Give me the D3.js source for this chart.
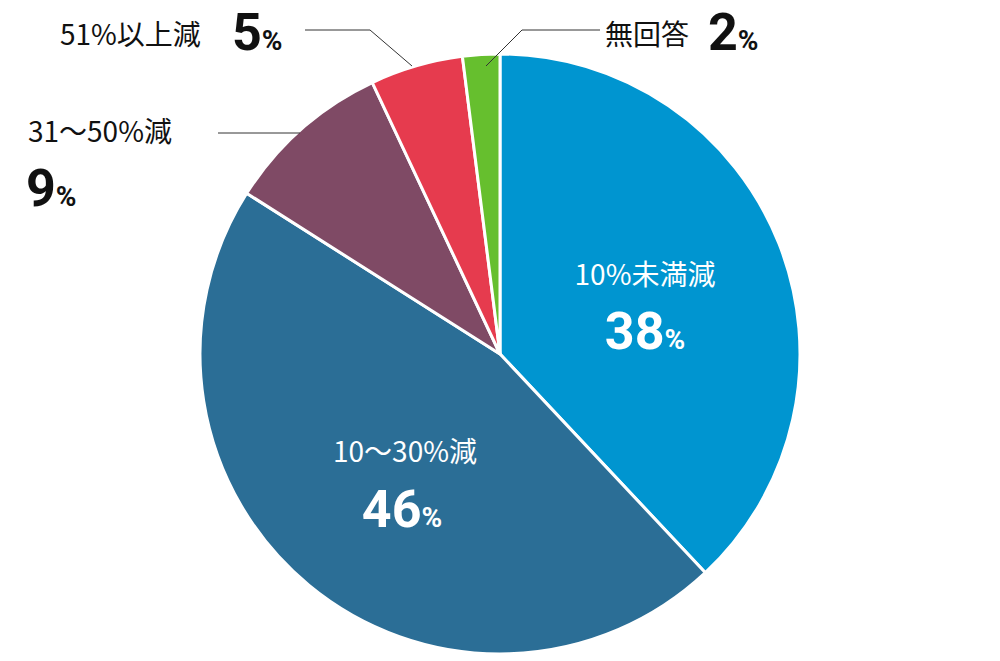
<!DOCTYPE html><html><head><meta charset="utf-8"><script src="https://cdn.jsdelivr.net/npm/d3@7"></script>
<style>body{margin:0;background:#fff}text{font-family:"Noto Sans CJK JP",sans-serif}</style></head><body>
<svg id="c" width="1000" height="661"></svg>
<script>
const categories=["10%未満減","10〜30%減","31〜50%減","51%以上減","無回答"];
const values=[38,46,9,5,2];
const colors=["#0095d0","#2b6e96","#7f4a65","#e63b4e","#66bf2e"];
const svg=d3.select("#c"),cx=500,cy=354,r=300;
const pie=d3.pie().sort(null).value(d=>d)(values);
const arc=d3.arc().innerRadius(0).outerRadius(r);
const g=svg.append("g").attr("transform",`translate(${cx},${cy})`);
g.selectAll("path").data(pie).join("path").attr("d",arc).attr("fill",(d,i)=>colors[i]).attr("stroke","#fff").attr("stroke-width",3);
function val(x,y,v,fill,anchor){
  const t=svg.append("text").attr("x",x).attr("y",y).attr("fill",fill).attr("text-anchor",anchor||"start");
  t.append("tspan").text(v).attr("font-family","Roboto").attr("font-weight",700).attr("font-size",52);
  t.append("tspan").text("%").attr("font-family","Roboto").attr("font-weight",700).attr("font-size",28);
}
function lab(x,y,s,fill,anchor){svg.append("text").attr("x",x).attr("y",y).attr("fill",fill).attr("font-size",28).attr("text-anchor",anchor||"start").text(s);}
lab(645,285,categories[0],"#fff","middle");val(645,349,values[0],"#fff","middle");
lab(405,462,categories[1],"#fff","middle");val(402,527,values[1],"#fff","middle");
lab(28,142,categories[2],"#111");val(26,206,values[2],"#111");
lab(60,45,categories[3],"#111");val(232,50,values[3],"#111");
lab(605,45,categories[4],"#111");val(708,50,values[4],"#111");
const ls=[[[218,133],[300,133]],[[305,30],[370,30],[412,66]],[[600,30],[522,30],[486,66]]];
ls.forEach(p=>svg.append("path").attr("d",d3.line()(p)).attr("fill","none").attr("stroke","#333").attr("stroke-width",1));
</script></body></html>
